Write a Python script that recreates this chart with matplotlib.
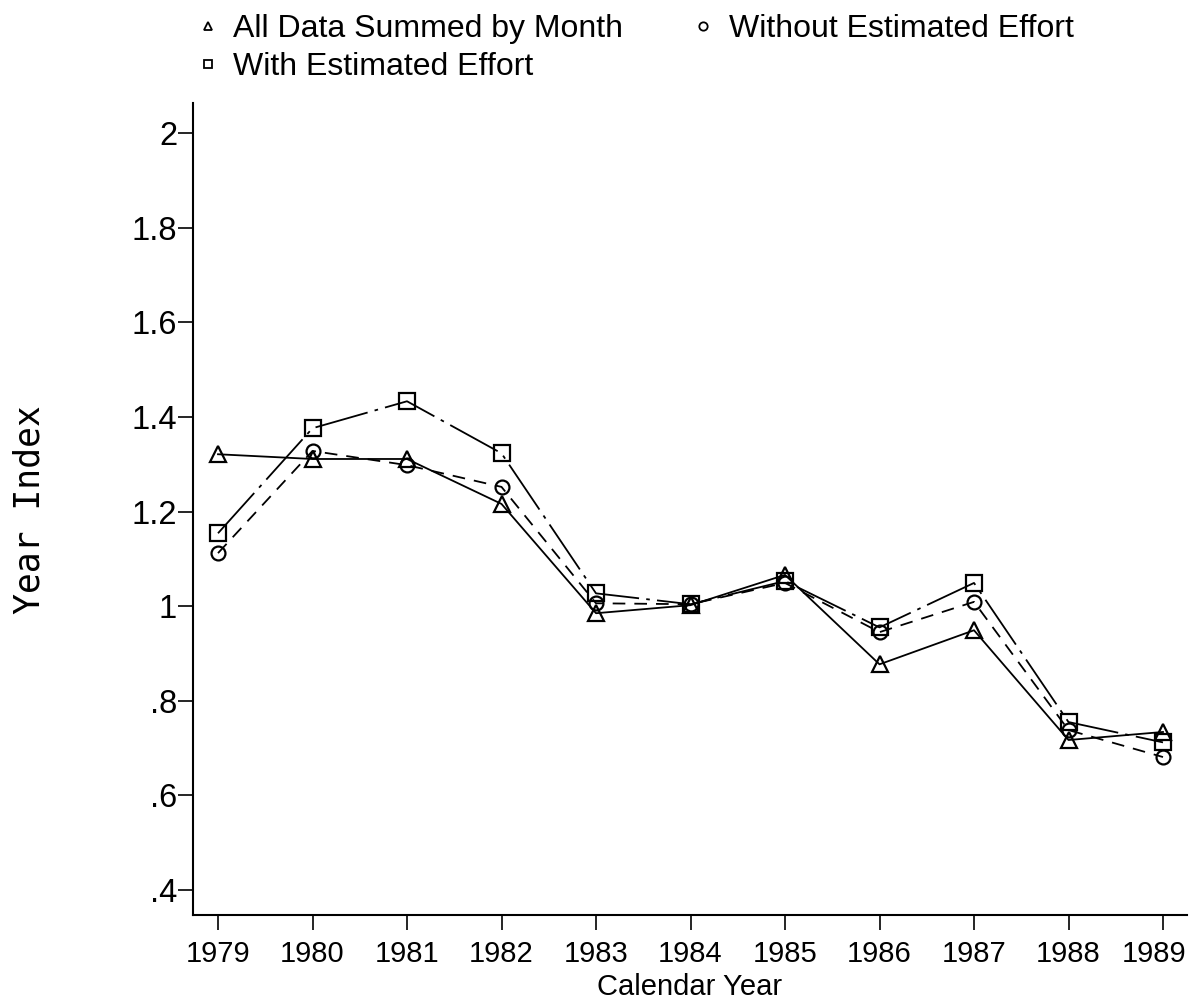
import matplotlib
matplotlib.use("Agg")
import matplotlib.pyplot as plt
import matplotlib.transforms as mtransforms
from matplotlib.lines import Line2D

years = [1979, 1980, 1981, 1982, 1983, 1984, 1985, 1986, 1987, 1988, 1989]
all_data = [1.321, 1.311, 1.311, 1.216, 0.985, 1.002, 1.066, 0.877, 0.949, 0.717, 0.734]
without_est = [1.112, 1.328, 1.298, 1.252, 1.006, 1.004, 1.049, 0.945, 1.009, 0.738, 0.681]
with_est = [1.154, 1.376, 1.433, 1.323, 1.027, 1.004, 1.053, 0.955, 1.049, 0.755, 0.712]

labels = ["All Data Summed by Month", "With Estimated Effort", "Without Estimated Effort"]
ytick_vals = [0.4, 0.6, 0.8, 1.0, 1.2, 1.4, 1.6, 1.8, 2.0]
ytick_labels = [".4", ".6", ".8", "1", "1.2", "1.4", "1.6", "1.8", "2"]

font = "Liberation Sans"

fig = plt.figure(figsize=(11.89, 10.01), dpi=100)
ax = fig.add_axes([193/1189, 1 - 915/1001, (1187 - 193)/1189, (915 - 103)/1001])

lw = 1.3
ax.plot(years, all_data, color="black", lw=lw, linestyle="-",
        marker="^", markersize=11, fillstyle="none", markeredgewidth=1.6)
ax.plot(years, without_est, color="black", lw=lw, linestyle=(0, (7, 5)),
        marker="o", markersize=10, fillstyle="none", markeredgewidth=1.6)
ax.plot(years, with_est, color="black", lw=lw, linestyle=(0, (30, 4, 2, 4)),
        marker="s", markersize=11, fillstyle="none", markeredgewidth=1.6)

ax.set_xlim(1979 - 25/94.5, 1989 + 24/94.5)
ax.set_ylim(0.4 - 25/473, 2.0 + 30/473)

for s in ["top", "right"]:
    ax.spines[s].set_visible(False)
for s in ["left", "bottom"]:
    ax.spines[s].set_linewidth(1.5)

ax.set_xticks(years)
ax.set_xticklabels([str(y) for y in years], fontsize=21, family=font)
ax.set_yticks(ytick_vals)
ax.set_yticklabels(ytick_labels, fontsize=23.5, family=font)
ax.tick_params(axis="x", direction="out", length=11, width=1.2, pad=7)
ax.tick_params(axis="y", direction="out", length=11, width=1.2, pad=0.5)

# nudge the last year label left so it stays inside the figure
last = ax.get_xticklabels()[-1]
last.set_transform(last.get_transform() +
                   mtransforms.ScaledTranslation(-9/100, 0, fig.dpi_scale_trans))

fig.text(690/1189, 1 - 995/1001, "Calendar Year", fontsize=21, family=font,
         ha="center", va="baseline")
fig.text(30/1189, 1 - 510/1001, "Year Index", rotation=90, fontsize=25,
         family="DejaVu Sans Mono", ha="center", va="center")

handles = [
    Line2D([], [], color="black", linestyle="none", marker="^", markersize=6,
           fillstyle="none", markeredgewidth=1.3),
    Line2D([], [], color="black", linestyle="none", marker="s", markersize=5.5,
           fillstyle="none", markeredgewidth=1.3),
    Line2D([], [], color="black", linestyle="none", marker="o", markersize=6,
           fillstyle="none", markeredgewidth=1.3),
]
fig.legend(handles, labels, ncol=2, loc="upper left",
           bbox_to_anchor=(198/1189, 1 - 14/1001), frameon=False,
           prop={"family": font, "size": 23}, handlelength=0.6,
           handletextpad=0.5, columnspacing=2.2, labelspacing=0.25,
           borderaxespad=0, borderpad=0)

fig.savefig("out.png", dpi=100)
